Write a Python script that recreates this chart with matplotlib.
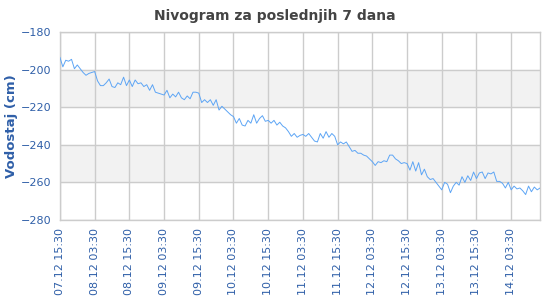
import matplotlib
matplotlib.use('Agg')
import matplotlib.pyplot as plt
import matplotlib.dates as mdates
import numpy as np
import pandas as pd

plt.rc('font', family='DejaVu Sans')

# hourly readings, starting 07.12 15:30
start = '2013-12-07 15:30'
level = [
    -193.5, -198.5, -195, -195.5, -194.5, -199.5, -197.5, -199.5, -201.5, -203, -202, -201.5,
    -201, -206, -208.5, -208.5, -207, -205, -209, -209.5, -207, -208, -204, -208.5,
    -205.5, -209, -205.5, -207.5, -207, -209, -208, -211, -208, -212, -212.5, -213,
    -213.5, -211, -215, -213, -214.5, -212, -215, -216, -214, -215.5, -212, -212,
    -212.5, -217.5, -216, -217.5, -216, -219, -216, -221.5, -219.5, -221, -222.5, -224,
    -225, -228.5, -226, -229.5, -230, -227, -228.5, -224, -228.5, -226, -224.5, -227.5,
    -227, -228.5, -227, -229.5, -228, -230, -231, -233, -235.5, -234, -236, -235,
    -234.5, -235.5, -234, -236, -238, -238.5, -234, -236.5, -233, -236, -234, -235.5,
    -240, -238.5, -239.5, -238.5, -241, -243.5, -243, -244.5, -244.5, -245.5, -246, -247.5,
    -249, -251, -249, -249.5, -248.5, -249, -245.5, -245.5, -247.5, -248.5, -250, -249.5,
    -250, -253.5, -249, -254, -249.5, -256, -253, -257, -258.5, -258, -260, -262,
    -264, -260, -261, -265.5, -262, -260, -261.5, -257, -260, -256.5, -259, -254.5,
    -258, -255, -254.5, -258, -255, -255.5, -254.5, -259.5, -259.5, -260.5, -263, -260,
    -264, -262, -263.5, -263, -264.5, -266.5, -262, -265, -262.5, -264, -263,
]
times = pd.date_range(start, periods=len(level), freq='h')
tick_times = pd.date_range(start, periods=14, freq='12h')

blue = '#2f5fa8'
fig = plt.figure(figsize=(5.5, 3), dpi=100)
ax = fig.add_axes([0.109, 0.267, 0.873, 0.626])

ax.axhspan(-220, -200, color='#f2f2f2', zorder=0)
ax.axhspan(-260, -240, color='#f2f2f2', zorder=0)

ax.plot(times, level, color='#5da5f5', linewidth=0.7, zorder=3)

ax.set_ylim(-280, -180)
ax.set_yticks(np.arange(-280, -179, 20))
ax.set_xlim(times[0], times[-1])
ax.set_xticks(tick_times)
ax.xaxis.set_major_formatter(mdates.DateFormatter('%d.%m %H:%M'))

ax.grid(True, color='#cccccc', linewidth=1)
ax.set_axisbelow(True)
for s in ax.spines.values():
    s.set_color('#cccccc')
    s.set_linewidth(1)
ax.tick_params(length=0, colors=blue, labelsize=8, pad=6)
ax.tick_params(axis='x', rotation=90, pad=6)
for lbl in ax.get_xticklabels():
    lbl.set_horizontalalignment('center')

ax.set_ylabel('Vodostaj (cm)', color=blue, fontsize=9.5, fontweight='bold', labelpad=2)
fig.suptitle('Nivogram za poslednjih 7 dana', x=0.5, y=0.97, fontsize=10,
             fontweight='bold', color='#444444')

fig.savefig('out.png', dpi=100)
